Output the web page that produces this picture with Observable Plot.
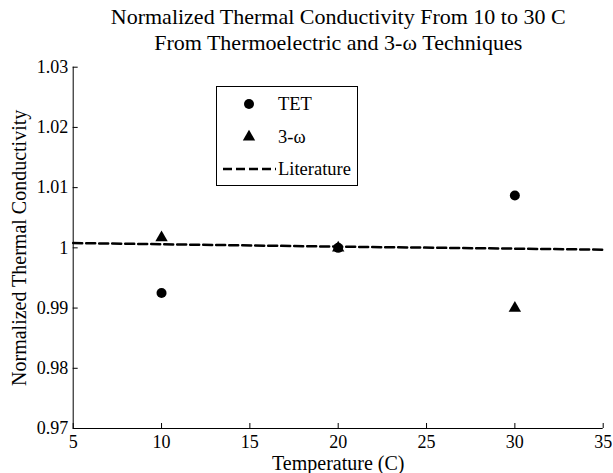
<!DOCTYPE html>
<html><head><meta charset="utf-8">
<script src="https://cdn.jsdelivr.net/npm/d3@7"></script>
<script src="https://cdn.jsdelivr.net/npm/@observablehq/plot@0.6"></script>
<style>
body{margin:0;background:#fff;}
#wrap{position:relative;width:613px;height:473px;font-family:"Liberation Serif","Times New Roman",serif;}
#legend{position:absolute;left:216px;top:86px;width:142px;height:100px;border:1px solid #000;background:#fff;box-sizing:border-box;}
#legend svg{position:absolute;left:0;top:0;}
</style></head><body><div id="wrap"></div>
<script>
const temps = [10, 20, 30];
const tet = [0.9925, 1.0000, 1.0087];
const threeOmega = [1.0017, 1.0000, 0.9900];
const litTemps = [5, 20, 35];
const litValues = [1.0008, 1.0002, 0.9997];
const xTicks = [5, 10, 15, 20, 25, 30, 35];
const yTicks = [0.97, 0.98, 0.99, 1.00, 1.01, 1.02, 1.03];
const yTickLabels = ["0.97", "0.98", "0.99", "1", "1.01", "1.02", "1.03"];
const titleLines = ["Normalized Thermal Conductivity From 10 to 30 C", "From Thermoelectric and 3-\u03c9 Techniques"];
const xLabel = "Temperature (C)";
const yLabel = "Normalized Thermal Conductivity";
const seriesNames = ["TET", "3-\u03c9", "Literature"];

const W = 613, H = 473, mL = 72.7, mR = 10.3, mT = 66.7, mB = 45;
const fw = W - mL - mR, fh = H - mT - mB;
const font = "'Liberation Serif','Times New Roman',serif";

const tetData = temps.map((t, i) => ({t, v: tet[i]}));
const omegaData = temps.map((t, i) => ({t, v: threeOmega[i]}));
const litData = litTemps.map((t, i) => ({t, v: litValues[i]}));

const chart = Plot.plot({
  width: W, height: H,
  marginLeft: mL, marginRight: mR, marginTop: mT, marginBottom: mB,
  style: {fontFamily: font, fontSize: "18px", color: "#000", background: "#fff", overflow: "visible"},
  x: {domain: [5, 35]},
  y: {domain: [0.97, 1.03]},
  marks: [
    Plot.axisX(xTicks, {tickSize: 0, tickPadding: 7, fontSize: 18, label: null}),
    Plot.axisY(yTicks, {tickSize: 0, tickPadding: 5, fontSize: 18, label: null,
      tickFormat: d => yTickLabels[yTicks.indexOf(d)]}),
    Plot.tickX(xTicks, {x: d => d, insetTop: fh - 5, stroke: "#000"}),
    Plot.tickY(yTicks, {y: d => d, insetRight: fw - 5, stroke: "#000"}),
    Plot.ruleX([5], {stroke: "#000"}),
    Plot.ruleY([0.97], {stroke: "#000"}),
    Plot.line(litData, {x: "t", y: "v", stroke: "#000", strokeWidth: 2.5, strokeDasharray: "9,4"}),
    Plot.dot(omegaData, {x: "t", y: "v", symbol: "triangle", r: 4.6, fill: "#000", stroke: null}),
    Plot.dot(tetData, {x: "t", y: "v", symbol: "circle", r: 5, fill: "#000", stroke: null}),
    Plot.text([titleLines[0]], {frameAnchor: "top", dy: 24 - mT, lineAnchor: "bottom", fontSize: 22, fill: "#000"}),
    Plot.text([titleLines[1]], {frameAnchor: "top", dy: 50 - mT, lineAnchor: "bottom", fontSize: 22, fill: "#000"}),
    Plot.text([xLabel], {frameAnchor: "bottom", dy: 469 - (H - mB), lineAnchor: "bottom", fontSize: 20, fill: "#000"}),
    Plot.text([yLabel], {frameAnchor: "left", dx: 26 - mL, rotate: -90, textAnchor: "middle", lineAnchor: "bottom", fontSize: 20, fill: "#000"})
  ]
});

const wrap = document.getElementById("wrap");
wrap.appendChild(chart);

// legend box
const legend = document.createElement("div");
legend.id = "legend";
const lsvg = d3.create("svg").attr("width", 142).attr("height", 100);
const rowsY = [17, 50, 82];
lsvg.append("circle").attr("cx", 32).attr("cy", rowsY[0]).attr("r", 5).attr("fill", "#000");
lsvg.append("path").attr("transform", `translate(32,${rowsY[1]})`)
  .attr("d", d3.symbol(d3.symbolTriangle, Math.PI * 4.6 * 4.6)()).attr("fill", "#000");
lsvg.append("line").attr("x1", 6).attr("x2", 59).attr("y1", rowsY[2]).attr("y2", rowsY[2])
  .attr("stroke", "#000").attr("stroke-width", 2.5).attr("stroke-dasharray", "9,4");
seriesNames.forEach((s, i) => {
  lsvg.append("text").attr("x", 61).attr("y", rowsY[i] + 6)
    .attr("font-family", font).attr("font-size", 18.5).attr("fill", "#000").text(s);
});
legend.appendChild(lsvg.node());
wrap.appendChild(legend);
</script>
</body></html>
